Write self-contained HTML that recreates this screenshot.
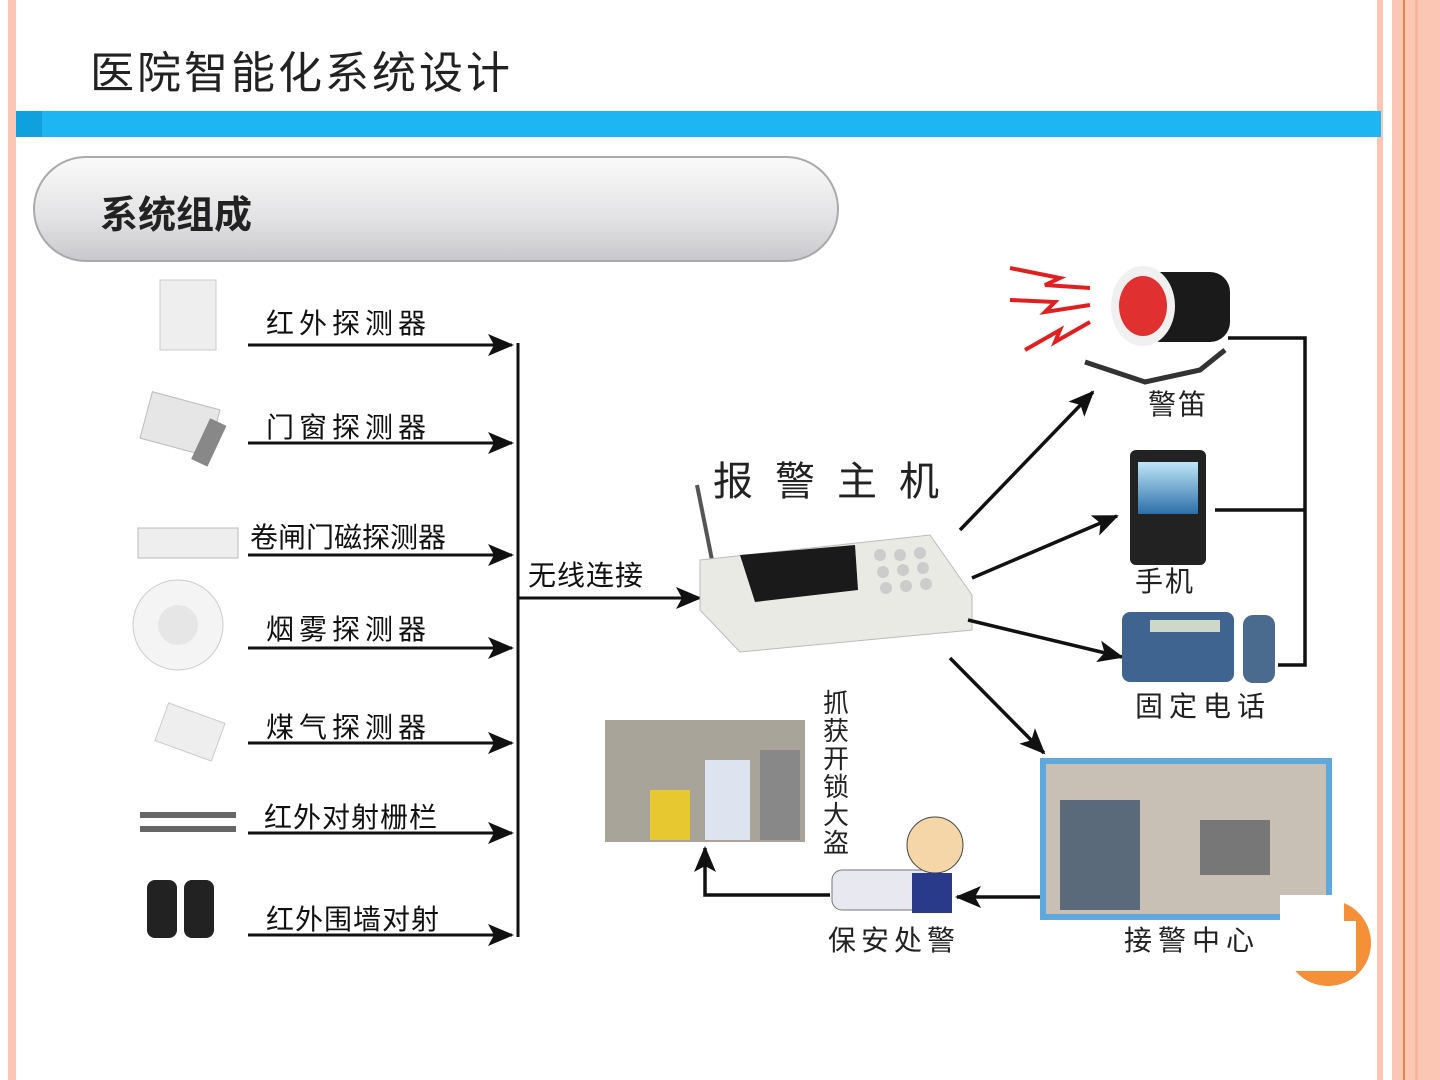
<!DOCTYPE html>
<html><head><meta charset="utf-8"><style>
html,body{margin:0;padding:0;background:#fff;}
svg{display:block;}
text{font-family:"Liberation Sans","Noto Sans CJK SC",sans-serif;}
</style></head><body>
<svg width="1440" height="1080" viewBox="0 0 1440 1080" xmlns="http://www.w3.org/2000/svg">
<defs>
<marker id="ahb" markerWidth="26" markerHeight="22" refX="24" refY="11" orient="auto" markerUnits="userSpaceOnUse"><path d="M0,0 L26,11 L0,22 L6,11 z" fill="#111"/></marker>
<linearGradient id="pill" x1="0" y1="0" x2="0" y2="1"><stop offset="0" stop-color="#fafafa"/><stop offset="0.6" stop-color="#e2e2e4"/><stop offset="1" stop-color="#c8c8cc"/></linearGradient>
<linearGradient id="scr" x1="0" y1="0" x2="0" y2="1"><stop offset="0" stop-color="#bfe6f8"/><stop offset="1" stop-color="#2c6fa8"/></linearGradient>
</defs>
<rect x="8" y="0" width="8" height="1080" fill="#fbc7b4"/>
<rect x="1377" y="0" width="6" height="1080" fill="#fbc7b4"/>
<rect x="1392" y="0" width="48" height="1080" fill="#fbc7b4"/>
<rect x="1403" y="0" width="2" height="1080" fill="#e8874a"/>
<rect x="1415" y="0" width="3" height="1080" fill="#f7b69c"/>
<text x="90" y="88" font-size="44" fill="#222" letter-spacing="3" font-family="Liberation Serif,Noto Serif CJK SC,serif">医院智能化系统设计</text>
<rect x="16" y="111" width="1365" height="26" fill="#1eb6f2"/>
<rect x="16" y="111" width="26" height="26" fill="#10a0de"/>
<rect x="34" y="157" width="804" height="104" rx="52" fill="url(#pill)" stroke="#aaa" stroke-width="2"/>
<text x="100" y="228" font-size="38" font-weight="bold" fill="#222" font-family="Liberation Serif,Noto Serif CJK SC,serif">系统组成</text>
<rect x="160" y="280" width="56" height="70" fill="#eee" stroke="#ccc"/>
<rect x="145" y="400" width="70" height="48" fill="#e6e6e6" stroke="#bbb" transform="rotate(15 180 424)"/>
<rect x="200" y="420" width="18" height="45" fill="#888" transform="rotate(25 209 442)"/>
<rect x="138" y="528" width="100" height="30" fill="#eee" stroke="#bbb"/>
<circle cx="178" cy="625" r="45" fill="#f4f4f4" stroke="#ccc"/>
<circle cx="178" cy="625" r="20" fill="#e6e6e6"/>
<rect x="160" y="712" width="60" height="40" fill="#eee" stroke="#ccc" transform="rotate(20 190 732)"/>
<rect x="140" y="812" width="96" height="6" fill="#666"/>
<rect x="140" y="826" width="96" height="6" fill="#666"/>
<rect x="147" y="880" width="30" height="58" rx="8" fill="#222"/>
<rect x="184" y="880" width="30" height="58" rx="8" fill="#222"/>
<g stroke="#111" stroke-width="3">
<line x1="248" y1="345" x2="512" y2="345" marker-end="url(#ahb)"/>
<line x1="248" y1="443" x2="512" y2="443" marker-end="url(#ahb)"/>
<line x1="248" y1="555" x2="512" y2="555" marker-end="url(#ahb)"/>
<line x1="248" y1="648" x2="512" y2="648" marker-end="url(#ahb)"/>
<line x1="248" y1="743" x2="512" y2="743" marker-end="url(#ahb)"/>
<line x1="248" y1="833" x2="512" y2="833" marker-end="url(#ahb)"/>
<line x1="248" y1="935" x2="512" y2="935" marker-end="url(#ahb)"/>
<line x1="518" y1="343" x2="518" y2="937"/>
<line x1="518" y1="598" x2="700" y2="598" marker-end="url(#ahb)"/>
</g>
<g font-size="28" fill="#111" letter-spacing="5">
<text x="266" y="333">红外探测器</text>
<text x="266" y="437">门窗探测器</text>
<text x="250" y="547" letter-spacing="0">卷闸门磁探测器</text>
<text x="266" y="639">烟雾探测器</text>
<text x="266" y="737">煤气探测器</text>
<text x="264" y="827" letter-spacing="1">红外对射栅栏</text>
<text x="266" y="929" letter-spacing="1">红外围墙对射</text>
<text x="528" y="585" letter-spacing="1">无线连接</text>
</g>
<text x="713" y="495" font-size="40" fill="#222" letter-spacing="22">报警主机</text>
<line x1="697" y1="485" x2="712" y2="560" stroke="#555" stroke-width="4"/>
<path d="M700,560 L930,535 L972,595 L972,630 L740,652 L700,610 z" fill="#eaeae4" stroke="#bbb"/>
<path d="M740,555 L855,545 L858,590 L755,602 z" fill="#1a1a1a"/>
<g fill="#ccc"><circle cx="880" cy="555" r="6"/><circle cx="900" cy="555" r="6"/><circle cx="920" cy="553" r="6"/><circle cx="883" cy="572" r="6"/><circle cx="903" cy="570" r="6"/><circle cx="923" cy="568" r="6"/><circle cx="886" cy="588" r="6"/><circle cx="906" cy="586" r="6"/><circle cx="926" cy="584" r="6"/></g>
<g stroke="#111" stroke-width="3.5">
<line x1="960" y1="530" x2="1093" y2="392" marker-end="url(#ahb)"/>
<line x1="972" y1="578" x2="1117" y2="516" marker-end="url(#ahb)"/>
<line x1="968" y1="620" x2="1122" y2="657" marker-end="url(#ahb)"/>
<line x1="950" y1="658" x2="1044" y2="753" marker-end="url(#ahb)"/>
</g>
<path d="M1010,268 L1060,278 L1045,285 L1090,288" stroke="#e02020" stroke-width="4" fill="none"/>
<path d="M1010,300 L1055,302 L1045,312 L1090,305" stroke="#e02020" stroke-width="4" fill="none"/>
<path d="M1025,350 L1060,330 L1055,342 L1090,322" stroke="#e02020" stroke-width="4" fill="none"/>
<rect x="1140" y="272" width="90" height="70" rx="20" fill="#1a1a1a"/>
<ellipse cx="1143" cy="306" rx="32" ry="40" fill="#f0f0f0"/>
<ellipse cx="1143" cy="306" rx="24" ry="30" fill="#e03030"/>
<path d="M1085,362 L1145,382 L1200,370 L1225,350" stroke="#333" stroke-width="5" fill="none"/>
<text x="1148" y="414" font-size="28" fill="#222" letter-spacing="2">警笛</text>
<rect x="1130" y="450" width="76" height="115" rx="6" fill="#222"/>
<rect x="1138" y="462" width="60" height="52" fill="url(#scr)"/>
<text x="1135" y="591" font-size="28" fill="#222" letter-spacing="2">手机</text>
<rect x="1122" y="612" width="112" height="70" rx="8" fill="#3f6490"/>
<rect x="1150" y="620" width="70" height="12" fill="#cfd8c8"/>
<rect x="1243" y="615" width="32" height="68" rx="10" fill="#4a6a8e"/>
<text x="1135" y="716" font-size="28" fill="#222" letter-spacing="6">固定电话</text>
<g stroke="#111" stroke-width="3.5" fill="none">
<polyline points="1228,338 1305,338 1305,665 1278,665"/>
<line x1="1215" y1="510" x2="1305" y2="510"/>
</g>
<rect x="1040" y="758" width="292" height="162" fill="#5ea8dc"/>
<rect x="1046" y="764" width="280" height="150" fill="#c8c0b4"/>
<rect x="1200" y="820" width="70" height="55" fill="#777"/>
<rect x="1060" y="800" width="80" height="110" fill="#5a6a7a"/>
<text x="1124" y="950" font-size="28" fill="#222" letter-spacing="6">接警中心</text>
<g stroke="#111" stroke-width="3.5" fill="none">
<line x1="1040" y1="897" x2="957" y2="897" marker-end="url(#ahb)"/>
<polyline points="830,895 705,895 705,848" marker-end="url(#ahb)"/>
</g>
<rect x="832" y="870" width="110" height="40" rx="10" fill="#e8e8f0" stroke="#777"/>
<circle cx="935" cy="845" r="28" fill="#f4d6a8" stroke="#444"/>
<rect x="912" y="873" width="40" height="40" fill="#2a3a8a"/>
<text x="828" y="950" font-size="28" fill="#222" letter-spacing="5">保安处警</text>
<rect x="605" y="720" width="200" height="122" fill="#a8a49a"/>
<rect x="650" y="790" width="40" height="50" fill="#e8c830"/>
<rect x="705" y="760" width="45" height="80" fill="#dde4f0"/>
<rect x="760" y="750" width="40" height="90" fill="#888"/>
<g font-size="26" fill="#222">
<text x="823" y="712">抓</text><text x="823" y="740">获</text><text x="823" y="768">开</text><text x="823" y="796">锁</text><text x="823" y="824">大</text><text x="823" y="852">盗</text>
</g>
<circle cx="1328" cy="943" r="43" fill="#f59038"/>
<rect x="1280" y="921" width="76" height="50" fill="#fff"/>
<rect x="1280" y="895" width="64" height="26" fill="#fff"/>
</svg>
</body></html>
